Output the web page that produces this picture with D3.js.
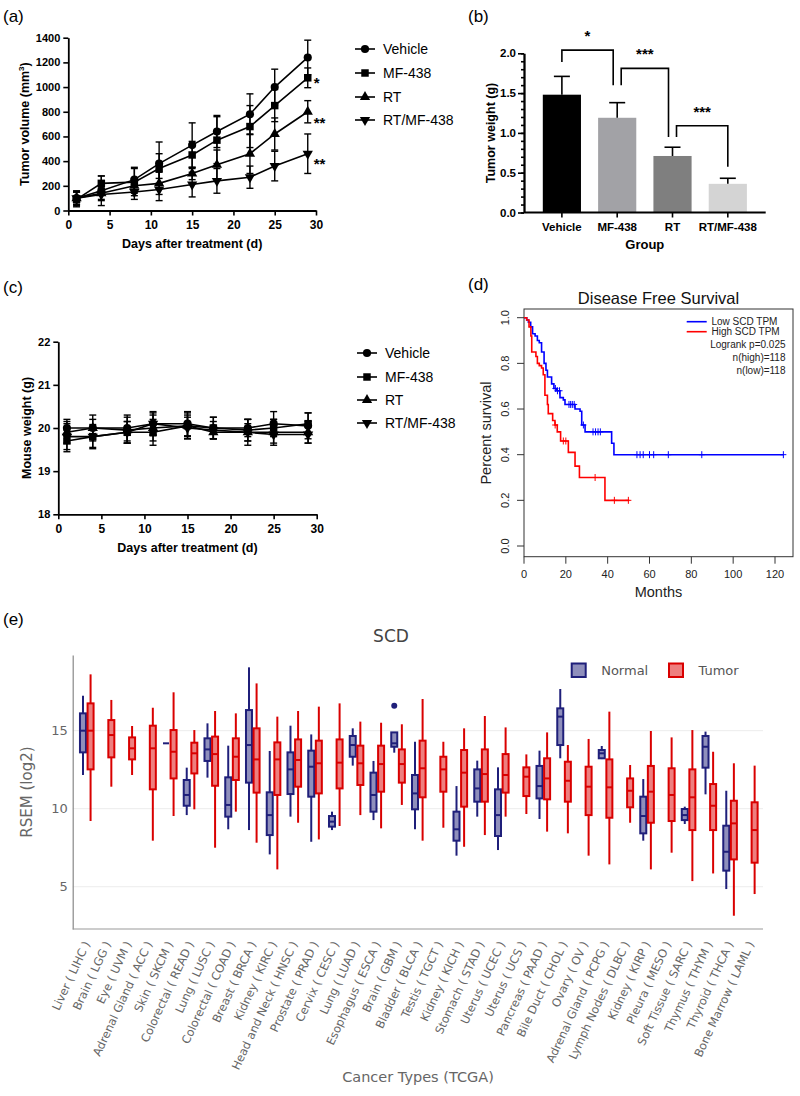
<!DOCTYPE html>
<html><head><meta charset="utf-8">
<script src="https://cdn.jsdelivr.net/npm/d3@7"></script>
<style>body{margin:0;background:#fff;} svg{display:block;}</style>
</head><body>
<svg id="chart" width="800" height="1096"></svg>
<script>
// ================= DATA =================
// (a) tumor volume
const days = [1,4,8,11,15,18,22,25,29];
const seriesNames = ["Vehicle","MF-438","RT","RT/MF-438"];
const volVehicle    = [100,160,250,380,530,640,780,1000,1240];
const volVehicleErr = [60,120,100,175,180,130,165,145,140];
const volMF438      = [90,220,230,340,450,570,680,850,1075];
const volMF438Err   = [60,60,110,120,110,190,170,130,80];
const volRT         = [100,140,200,220,300,370,460,620,800];
const volRTErr      = [50,50,60,90,50,120,160,130,90];
const volCombo      = [100,130,150,170,210,240,270,360,460];
const volComboErr   = [50,50,60,90,100,100,90,120,160];
const volumeTicks = [0,200,400,600,800,1000,1200,1400];
const dayTicks = [0,5,10,15,20,25,30];
const volumeStars = ["","*","**","**"];

// (b) tumor weight
const weightMean = [1.48,1.19,0.71,0.36];
const weightErr  = [0.23,0.19,0.11,0.07];
const weightTicks = [0,0.5,1.0,1.5,2.0];
const sigLabels   = ["*","***","***"];
const sigTop      = [2.04,1.81,1.09];
const sigLeftEnd  = [1.89,1.60,0.95];
const sigRightEnd = [1.60,0.95,0.575];

// (c) mouse weight
const mwVehicle    = [20.0,20.0,20.0,20.1,20.1,20.0,20.0,20.1,20.05];
const mwVehicleErr = [0.2,0.3,0.3,0.28,0.28,0.25,0.2,0.28,0.3];
const mwMF438      = [19.7,19.8,19.9,19.9,20.05,20.0,19.95,20.0,20.1];
const mwMF438Err   = [0.25,0.25,0.25,0.3,0.3,0.25,0.25,0.2,0.25];
const mwRT         = [19.9,20.0,19.95,20.0,20.05,19.9,19.9,19.9,19.9];
const mwRTErr      = [0.25,0.2,0.3,0.3,0.25,0.15,0.2,0.3,0.25];
const mwCombo      = [19.8,19.8,19.9,20.1,20.0,19.95,19.9,19.85,19.85];
const mwComboErr   = [0.3,0.28,0.25,0.25,0.25,0.2,0.3,0.2,0.2];
const mouseTicks = [18,19,20,21,22];

// (d) disease free survival
const lowTimes = [0,1.3,2.1,3.2,4.1,5.3,6.4,7.3,8.4,9.6,10.5,11.2,13.2,14.3,15.6,17.2,18.8,19.6,24.4,26.8,27.6,29.2,41.9,43.0,124];
const lowSurv  = [1.0,0.99,0.98,0.96,0.93,0.92,0.90,0.89,0.85,0.80,0.77,0.74,0.71,0.69,0.68,0.65,0.64,0.62,0.60,0.59,0.53,0.50,0.45,0.40,0.40];
const lowCensor = [15.0,16.0,17.0,21.5,22.3,23.1,24.0,28.4,33.0,34.2,35.4,36.5,54,55.5,57,60,62,69,85,124];
const highTimes = [0,1.3,2.4,3.3,3.7,5.7,6.4,7.3,8.4,9.2,10.0,11.2,11.6,13.7,14.8,15.9,17.5,21.2,24.4,26.5,38.7,50.3];
const highSurv  = [1.0,0.99,0.96,0.92,0.85,0.83,0.80,0.79,0.78,0.75,0.66,0.62,0.58,0.55,0.53,0.50,0.46,0.41,0.35,0.30,0.20,0.20];
const highCensor = [14.9,18.8,20.0,34.0,43.2,49.9];
const monthTicks = [0,20,40,60,80,100,120];
const survTicks = [0,0.2,0.4,0.6,0.8,1.0];

// (e) SCD expression
const cancerTypes = ["Liver ( LIHC )","Brain ( LGG )","Eye ( UVM )","Adrenal Gland ( ACC )","Skin ( SKCM )","Colorectal ( READ )","Lung ( LUSC )","Colorectal ( COAD )","Breast ( BRCA )","Kidney ( KIRC )","Head and Neck ( HNSC )","Prostate ( PRAD )","Cervix ( CESC )","Lung ( LUAD )","Esophagus ( ESCA )","Brain ( GBM )","Bladder ( BLCA )","Testis ( TGCT )","Kidney ( KICH )","Stomach ( STAD )","Uterus ( UCEC )","Uterus ( UCS )","Pancreas ( PAAD )","Bile Duct ( CHOL )","Ovary ( OV )","Adrenal Gland ( PCPG )","Lymph Nodes ( DLBC )","Kidney ( KIRP )","Pleura ( MESO )","Soft Tissue ( SARC )","Thymus ( THYM )","Thyroid ( THCA )","Bone Marrow ( LAML )"];
const normalMin    = [12.16,null,null,null,14.19,9.59,11.99,8.68,8.63,7.07,9.49,7.88,8.63,12.76,9.27,13.59,8.68,null,6.99,9.49,7.35,null,9.34,13.23,null,13.18,null,7.95,null,9.02,10.92,4.85,null];
const normalQ1     = [13.61,null,null,null,14.19,10.19,13.06,9.49,11.67,8.31,10.94,10.77,8.85,13.33,9.81,13.97,9.96,null,7.95,10.45,8.25,null,10.66,14.08,null,13.23,null,8.42,null,9.27,12.63,6.03,null];
const normalMedian = [15.0,null,null,null,14.19,10.88,13.80,10.24,14.08,9.59,12.52,12.69,9.17,14.08,10.88,14.19,10.98,null,8.68,11.30,9.59,null,11.45,15.90,null,13.55,null,9.53,null,9.59,13.97,7.24,null];
const normalQ3     = [16.11,null,null,null,14.19,11.84,14.51,12.01,16.32,11.05,13.61,13.72,9.53,14.66,12.31,14.89,12.16,null,9.81,12.52,11.24,null,12.74,16.43,null,13.76,null,10.77,null,9.98,14.66,8.91,null];
const normalMax    = [17.24,null,null,null,14.19,12.63,15.47,14.04,19.06,13.70,15.32,14.76,9.81,15.15,13.06,14.89,14.29,null,11.45,13.08,12.65,null,13.72,17.67,null,14.02,null,11.90,null,10.13,14.94,11.15,null];
const tumorMin    = [9.21,11.41,12.16,7.95,9.53,9.96,7.50,9.81,7.82,6.11,9.10,8.03,8.89,9.59,8.74,10.24,7.95,8.78,7.56,8.31,9.49,9.66,8.53,8.42,6.99,6.43,9.10,6.11,7.18,5.36,5.85,3.14,4.53];
const tumorQ1     = [12.52,13.29,13.16,11.24,11.94,12.26,11.47,11.84,11.03,10.88,11.41,10.98,11.30,11.52,11.09,11.67,10.73,11.09,10.13,10.45,11.03,10.81,10.60,10.45,9.59,9.42,10.09,9.10,9.21,8.63,8.63,6.75,6.54];
const tumorMedian = [15.0,14.72,13.87,13.87,13.65,13.55,13.50,13.33,13.16,13.16,13.12,12.91,12.95,12.91,12.86,12.86,12.59,12.52,12.31,12.22,12.16,12.05,11.94,11.79,11.41,11.37,11.15,11.09,10.88,10.73,10.19,9.06,8.63];
const tumorQ3     = [16.75,15.68,14.57,15.32,15.04,14.23,14.62,14.51,15.15,14.25,14.44,14.36,14.44,14.04,14.04,13.80,14.36,13.33,13.76,13.80,13.50,12.65,13.23,13.01,12.69,13.16,11.94,12.74,12.59,12.52,11.58,10.51,10.41];
const tumorMax    = [18.61,16.97,15.30,16.47,17.46,15.04,16.26,16.11,18.03,15.90,16.26,16.54,16.75,15.58,15.51,15.41,17.03,14.29,15.15,15.94,15.21,13.48,14.89,14.08,14.47,16.22,12.80,14.98,14.57,15.04,13.65,12.91,12.76];
const normalOutlierType = ["Brain ( GBM )"];
const normalOutlierValue = [16.6];
const rsemTicks = [5,10,15];

// ================= DRAW =================
const svg = d3.select("#chart");
svg.append("rect").attr("width",800).attr("height",1096).attr("fill","#fff");
const FA = "'Liberation Sans', Arial, Helvetica, sans-serif";
const FE = "'DejaVu Sans', Verdana, sans-serif";

function panelLabel(t,x,y){
  svg.append("text").attr("x",x).attr("y",y).attr("font-family",FA).attr("font-size",17).attr("fill","#000").text(t);
}
function styleAxis(g, fs){
  g.selectAll("path.domain").attr("stroke","#000").attr("stroke-width",1.8);
  g.selectAll(".tick line").attr("stroke","#000").attr("stroke-width",1.6);
  g.selectAll(".tick text").attr("font-family",FA).attr("font-weight","bold").attr("font-size",fs).attr("fill","#000");
}
const symbolPaths = [
  d3.symbol(d3.symbolCircle,52)(),
  d3.symbol(d3.symbolSquare,56)(),
  d3.symbol(d3.symbolTriangle,46)(),
  d3.symbol(d3.symbolTriangle,46)()
];
function symTransform(k,x,y){ return `translate(${x},${y})` + (k===3?" rotate(180)":""); }

function linePanel(cfg){
  const g = svg.append("g");
  const x = d3.scaleLinear().domain([0,30]).range(cfg.xr);
  const y = d3.scaleLinear().domain(cfg.yd).range(cfg.yr);
  const ay = g.append("g").attr("transform",`translate(${cfg.xr[0]},0)`)
    .call(d3.axisLeft(y).tickValues(cfg.yTicks).tickSize(5).tickSizeOuter(0).tickPadding(3).tickFormat(d3.format("d")));
  styleAxis(ay, 11);
  const ax = g.append("g").attr("transform",`translate(0,${cfg.yr[0]})`)
    .call(d3.axisBottom(x).tickValues(dayTicks).tickSize(5).tickSizeOuter(0).tickPadding(5));
  styleAxis(ax, 12);
  cfg.values.forEach((vals,k)=>{
    const errs = cfg.errs[k];
    const eb = g.append("g").attr("stroke","#000").attr("stroke-width",1.4);
    days.forEach((d,i)=>{
      const cx = x(d), y1 = y(vals[i]-errs[i]), y2 = y(vals[i]+errs[i]);
      eb.append("line").attr("x1",cx).attr("x2",cx).attr("y1",y1).attr("y2",y2);
      eb.append("line").attr("x1",cx-3.5).attr("x2",cx+3.5).attr("y1",y1).attr("y2",y1);
      eb.append("line").attr("x1",cx-3.5).attr("x2",cx+3.5).attr("y1",y2).attr("y2",y2);
    });
    g.append("path").datum(vals)
      .attr("d", d3.line().x((v,i)=>x(days[i])).y(v=>y(v)))
      .attr("fill","none").attr("stroke","#000").attr("stroke-width",1.6);
    g.append("g").selectAll("path").data(vals).join("path")
      .attr("d", symbolPaths[k]).attr("fill","#000")
      .attr("transform",(v,i)=>symTransform(k,x(days[i]),y(v)));
  });
  // legend
  seriesNames.forEach((n,k)=>{
    const ly = cfg.legendY[k];
    g.append("line").attr("x1",cfg.legendX).attr("x2",cfg.legendX+20).attr("y1",ly).attr("y2",ly)
      .attr("stroke","#000").attr("stroke-width",1.6);
    g.append("path").attr("d",symbolPaths[k]).attr("fill","#000").attr("transform",symTransform(k,cfg.legendX+10,ly));
    g.append("text").attr("x",cfg.legendX+28).attr("y",ly).attr("dy","0.36em")
      .attr("font-family",FA).attr("font-size",14).attr("fill","#000").text(n);
  });
  // titles
  g.append("text").attr("x",(cfg.xr[0]+cfg.xr[1])/2).attr("y",cfg.xTitleY).attr("text-anchor","middle")
    .attr("font-family",FA).attr("font-weight","bold").attr("font-size",12.5).text("Days after treatment (d)");
  const yt = g.append("text").attr("transform",`translate(${cfg.yTitleX},${(cfg.yr[0]+cfg.yr[1])/2}) rotate(-90)`)
    .attr("text-anchor","middle").attr("font-family",FA).attr("font-weight","bold").attr("font-size",12.5);
  cfg.yTitle(yt);
  return {g,x,y};
}

// ---------- (a) ----------
panelLabel("(a)",3,22);
const pA = linePanel({
  xr:[68.3,316], yd:[0,1400], yr:[210.5,37.7], yTicks:volumeTicks,
  values:[volVehicle,volMF438,volRT,volCombo],
  errs:[volVehicleErr,volMF438Err,volRTErr,volComboErr],
  legendY:[49,73,97,120], legendX:355, xTitleY:248, yTitleX:29,
  yTitle: t=>{ t.append("tspan").text("Tumor volume (mm");
    t.append("tspan").attr("font-size",8).attr("dy","-0.6em").text("3");
    t.append("tspan").attr("dy","0.35em").text(")"); }
});
const lastVals = [volVehicle,volMF438,volRT,volCombo].map(a=>a[a.length-1]);
const starOffsets = [0,10,16,15];
volumeStars.forEach((s,k)=>{
  if(!s) return;
  pA.g.append("text").attr("x",pA.x(days[days.length-1])+6).attr("y",pA.y(lastVals[k])+starOffsets[k])
    .attr("font-family",FA).attr("font-weight","bold").attr("font-size",15).text(s);
});

// ---------- (b) ----------
panelLabel("(b)",468,22);
const gB = svg.append("g");
const xB = d3.scaleBand().domain(seriesNames).range([524,765.7]).paddingInner(0.31).paddingOuter(0.34);
const yB = d3.scaleLinear().domain([0,2]).range([212.5,53.3]);
const barColors = ["#000000","#a2a2a6","#7f7f7f","#d4d4d4"];
gB.selectAll("rect.bar").data(weightMean).join("rect")
  .attr("x",(d,i)=>xB(seriesNames[i])).attr("width",xB.bandwidth())
  .attr("y",d=>yB(d)).attr("height",d=>yB(0)-yB(d)).attr("fill",(d,i)=>barColors[i]);
const ebB = gB.append("g").attr("stroke","#000").attr("stroke-width",1.6);
weightMean.forEach((m,i)=>{
  const cx = xB(seriesNames[i])+xB.bandwidth()/2;
  ebB.append("line").attr("x1",cx).attr("x2",cx).attr("y1",yB(m)).attr("y2",yB(m+weightErr[i]));
  ebB.append("line").attr("x1",cx-8).attr("x2",cx+8).attr("y1",yB(m+weightErr[i])).attr("y2",yB(m+weightErr[i]));
});
const ayBminor = gB.append("g").attr("transform","translate(524,0)")
  .call(d3.axisLeft(yB).tickValues(d3.range(0,2.001,0.1)).tickSize(3).tickSizeOuter(0).tickFormat(""));
styleAxis(ayBminor,11);
const ayB = gB.append("g").attr("transform","translate(524,0)")
  .call(d3.axisLeft(yB).tickValues(weightTicks).tickSize(6).tickSizeOuter(0).tickPadding(2).tickFormat(d3.format(".1f")));
styleAxis(ayB,11.5);
const axB = gB.append("g").attr("transform","translate(0,212.5)")
  .call(d3.axisBottom(xB).tickSize(5).tickSizeOuter(0).tickPadding(5));
styleAxis(axB,11.5);
axB.select(".domain").remove();
gB.append("line").attr("x1",524).attr("x2",765.7).attr("y1",212.5).attr("y2",212.5).attr("stroke","#000").attr("stroke-width",1.8);
sigLabels.forEach((s,i)=>{
  const ca = xB(seriesNames[i])+xB.bandwidth()/2 + (i>0?4:0);
  const cb = xB(seriesNames[i+1])+xB.bandwidth()/2 - (i<sigLabels.length-1?4:0);
  gB.append("path").attr("d",`M${ca},${yB(sigLeftEnd[i])}V${yB(sigTop[i])}H${cb}V${yB(sigRightEnd[i])}`)
    .attr("fill","none").attr("stroke","#000").attr("stroke-width",1.6);
  gB.append("text").attr("x",(ca+cb)/2).attr("y",yB(sigTop[i])-9).attr("text-anchor","middle")
    .attr("font-family",FA).attr("font-weight","bold").attr("font-size",15).text(s);
});
gB.append("text").attr("x",644.8).attr("y",249).attr("text-anchor","middle")
  .attr("font-family",FA).attr("font-weight","bold").attr("font-size",13).text("Group");
gB.append("text").attr("transform","translate(495,133) rotate(-90)").attr("text-anchor","middle")
  .attr("font-family",FA).attr("font-weight","bold").attr("font-size",12.5).text("Tumor weight (g)");

// ---------- (c) ----------
panelLabel("(c)",3,293);
linePanel({
  xr:[58.3,316.7], yd:[18,22], yr:[514.3,341.7], yTicks:mouseTicks,
  values:[mwVehicle,mwMF438,mwRT,mwCombo],
  errs:[mwVehicleErr,mwMF438Err,mwRTErr,mwComboErr],
  legendY:[353,377,400,423], legendX:357, xTitleY:552, yTitleX:31,
  yTitle: t=>t.text("Mouse weight (g)")
});

// ---------- (d) ----------
panelLabel("(d)",468,290);
const gD = svg.append("g");
const xD = d3.scaleLinear().domain([0,120]).range([524,775]);
const yD = d3.scaleLinear().domain([0,1]).range([546,317.7]);
gD.append("rect").attr("x",524).attr("y",309).attr("width",269).attr("height",247.7)
  .attr("fill","none").attr("stroke","#333").attr("stroke-width",1);
monthTicks.forEach(t=>{
  gD.append("line").attr("x1",xD(t)).attr("x2",xD(t)).attr("y1",556.7).attr("y2",563.7).attr("stroke","#333");
  gD.append("text").attr("x",xD(t)).attr("y",578).attr("text-anchor","middle")
    .attr("font-family",FA).attr("font-size",11).attr("fill","#222").text(t);
});
survTicks.forEach(t=>{
  gD.append("line").attr("x1",517).attr("x2",524).attr("y1",yD(t)).attr("y2",yD(t)).attr("stroke","#333");
  gD.append("text").attr("transform",`translate(508.5,${yD(t)}) rotate(-90)`).attr("text-anchor","middle")
    .attr("font-family",FA).attr("font-size",11).attr("fill","#222").text(d3.format(".1f")(t));
});
const stepLine = d3.line().curve(d3.curveStepAfter).x(d=>xD(d[0])).y(d=>yD(d[1]));
function survAt(times,surv,t){ let s=surv[0]; for(let i=0;i<times.length;i++){ if(times[i]<=t) s=surv[i]; } return s; }
function drawSurv(times,surv,cens,color){
  gD.append("path").datum(times.map((t,i)=>[t,surv[i]])).attr("d",stepLine)
    .attr("fill","none").attr("stroke",color).attr("stroke-width",1.6);
  cens.forEach(c=>{
    const cx = xD(c), cy = yD(survAt(times,surv,c));
    gD.append("path").attr("d",`M${cx-3},${cy}H${cx+3}M${cx},${cy-3.5}V${cy+3.5}`)
      .attr("stroke",color).attr("stroke-width",1).attr("fill","none");
  });
}
drawSurv(lowTimes,lowSurv,lowCensor,"#0000ff");
drawSurv(highTimes,highSurv,highCensor,"#ff0000");
gD.append("text").attr("x",658.5).attr("y",304).attr("text-anchor","middle")
  .attr("font-family",FA).attr("font-size",16.5).attr("fill","#111").text("Disease Free Survival");
[["Low SCD TPM","#0000ff",321.7],["High SCD TPM","#ff0000",331.7]].forEach(([n,c,ly])=>{
  gD.append("line").attr("x1",686.7).attr("x2",706.7).attr("y1",ly).attr("y2",ly).attr("stroke",c).attr("stroke-width",1.6);
  gD.append("text").attr("x",711.5).attr("y",ly).attr("dy","0.36em").attr("font-family",FA).attr("font-size",10).attr("fill","#222").text(n);
});
[["Logrank p=0.025",347.5],["n(high)=118",360.5],["n(low)=118",373.5]].forEach(([t,ly])=>{
  gD.append("text").attr("x",785.5).attr("y",ly).attr("text-anchor","end").attr("font-family",FA).attr("font-size",10).attr("fill","#222").text(t);
});
gD.append("text").attr("x",658.5).attr("y",597).attr("text-anchor","middle")
  .attr("font-family",FA).attr("font-size",14.5).attr("fill","#222").text("Months");
gD.append("text").attr("transform","translate(490.5,433) rotate(-90)").attr("text-anchor","middle")
  .attr("font-family",FA).attr("font-size",14.5).attr("fill","#222").text("Percent survival");

// ---------- (e) ----------
panelLabel("(e)",3,625);
const gE = svg.append("g");
const xE = d3.scaleBand().domain(cancerTypes).range([76.4,761.2]);
const yE = d3.scaleLinear().domain([2.29,19.85]).range([929,655]);
gE.selectAll("line.grid").data(rsemTicks).join("line")
  .attr("x1",72.7).attr("x2",763).attr("y1",d=>yE(d)).attr("y2",d=>yE(d))
  .attr("stroke","#ececec").attr("stroke-width",1);
const ayE = gE.append("g").attr("transform","translate(72.7,0)")
  .call(d3.axisLeft(yE).tickValues(rsemTicks).tickSize(0).tickPadding(5).tickFormat(d3.format("d")));
ayE.select(".domain").attr("stroke","#888").attr("stroke-width",1.2);
ayE.selectAll(".tick text").attr("font-family",FE).attr("font-size",13).attr("fill","#666");
gE.append("line").attr("x1",72.7).attr("x2",763).attr("y1",929).attr("y2",929).attr("stroke","#999").attr("stroke-width",1.2);
gE.selectAll("text.cat").data(cancerTypes).join("text")
  .attr("transform",d=>`translate(${xE(d)+xE.bandwidth()/2},942) rotate(-65)`)
  .attr("text-anchor","end").attr("dy","0.35em")
  .attr("font-family",FE).attr("font-size",11.5).attr("fill","#666").text(d=>d);
const NAVY = "#1f1f7a", NAVYF = "rgba(31,31,122,0.5)", RED = "#d90000", REDF = "rgba(221,0,0,0.5)";
function drawBoxes(mins,q1s,meds,q3s,maxs,dx,stroke,fill){
  const gb = gE.append("g");
  cancerTypes.forEach((c,i)=>{
    if(meds[i]==null) return;
    const cx = xE(c)+xE.bandwidth()/2+dx;
    gb.append("line").attr("x1",cx).attr("x2",cx).attr("y1",yE(maxs[i])).attr("y2",yE(q3s[i])).attr("stroke",stroke).attr("stroke-width",2);
    gb.append("line").attr("x1",cx).attr("x2",cx).attr("y1",yE(q1s[i])).attr("y2",yE(mins[i])).attr("stroke",stroke).attr("stroke-width",2);
    gb.append("rect").attr("x",cx-3).attr("width",6).attr("y",yE(q3s[i])).attr("height",Math.max(0,yE(q1s[i])-yE(q3s[i])))
      .attr("fill",fill).attr("stroke",stroke).attr("stroke-width",2);
    gb.append("line").attr("x1",cx-3).attr("x2",cx+3).attr("y1",yE(meds[i])).attr("y2",yE(meds[i])).attr("stroke",stroke).attr("stroke-width",2);
  });
}
drawBoxes(normalMin,normalQ1,normalMedian,normalQ3,normalMax,-3.8,NAVY,NAVYF);
drawBoxes(tumorMin,tumorQ1,tumorMedian,tumorQ3,tumorMax,3.8,RED,REDF);
normalOutlierType.forEach((c,k)=>{
  gE.append("circle").attr("cx",xE(c)+xE.bandwidth()/2-3.8).attr("cy",yE(normalOutlierValue[k])).attr("r",3).attr("fill",NAVY);
});
gE.append("text").attr("x",391).attr("y",641.5).attr("text-anchor","middle")
  .attr("font-family",FE).attr("font-size",17).attr("fill","#444").text("SCD");
gE.append("text").attr("transform","translate(32,792) rotate(-90)").attr("text-anchor","middle")
  .attr("font-family",FE).attr("font-size",15).attr("fill","#666").text("RSEM (log2)");
gE.append("text").attr("x",418).attr("y",1082).attr("text-anchor","middle")
  .attr("font-family",FE).attr("font-size",14.5).attr("fill","#666").text("Cancer Types (TCGA)");
[["Normal",571.7,NAVY,NAVYF],["Tumor",669,RED,REDF]].forEach(([n,lx,s,f])=>{
  gE.append("rect").attr("x",lx).attr("y",663.5).attr("width",14).attr("height",13.5).attr("fill",f).attr("stroke",s).attr("stroke-width",2);
  gE.append("text").attr("x",lx+29.5).attr("y",670.5).attr("dy","0.36em")
    .attr("font-family",FE).attr("font-size",13).attr("fill","#555").text(n);
});
</script>
</body></html>
